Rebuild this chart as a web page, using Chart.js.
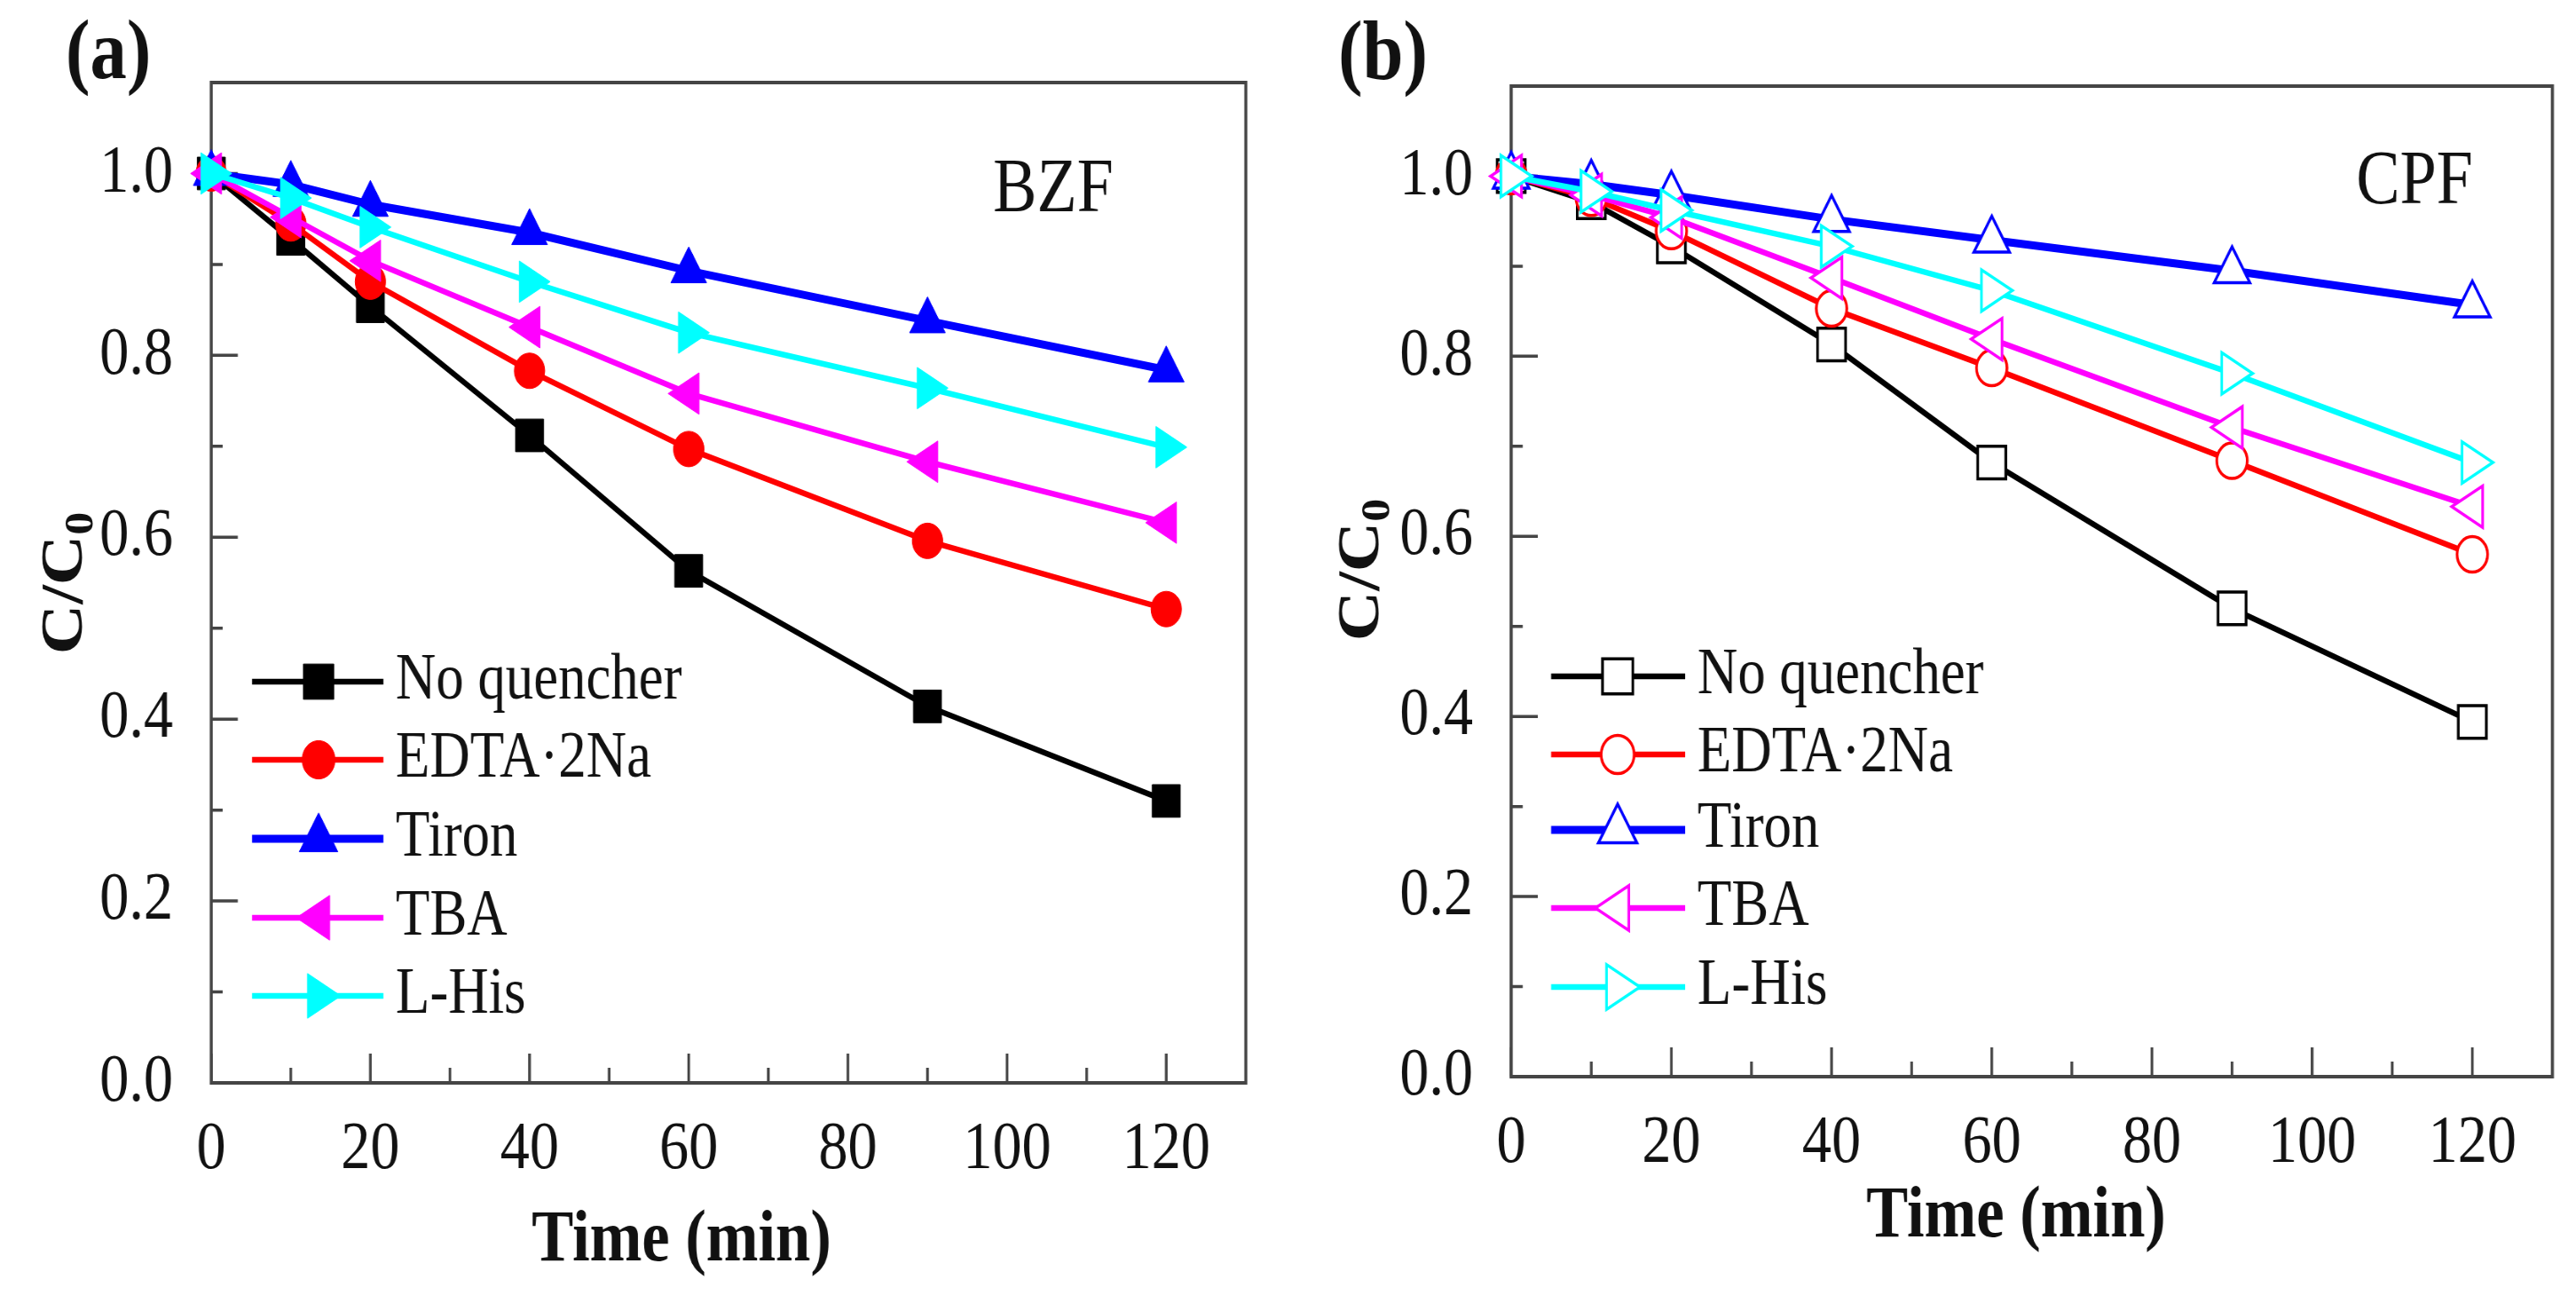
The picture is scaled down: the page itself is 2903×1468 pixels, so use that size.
<!DOCTYPE html>
<html>
<head>
<meta charset="utf-8">
<title>Quencher tests - BZF / CPF</title>
<script src="https://cdn.jsdelivr.net/npm/chart.js@4.4.1/dist/chart.umd.min.js"></script>
<style>
  html, body { margin: 0; padding: 0; background: #fff; overflow: hidden; }
  .panel { position: absolute; top: 0; transform-origin: 0 0; }
</style>
</head>
<body>
<div class="panel" id="wrapA"><canvas id="chartA"></canvas></div>
<div class="panel" id="wrapB"><canvas id="chartB"></canvas></div>
<script>
// data
const times = [0, 10, 20, 40, 60, 90, 120];
const quenchers = ["No quencher", "EDTA·2Na", "Tiron", "TBA", "L-His"];

const bzfNoQuencher = [1.0, 0.928, 0.854, 0.712, 0.563, 0.414, 0.31];
const bzfEdta = [1.0, 0.945, 0.881, 0.783, 0.697, 0.596, 0.521];
const bzfTiron = [1.0, 0.988, 0.966, 0.935, 0.893, 0.838, 0.784];
const bzfTba = [1.0, 0.952, 0.904, 0.831, 0.758, 0.683, 0.616];
const bzfLHis = [1.0, 0.973, 0.941, 0.881, 0.825, 0.764, 0.699];

const cpfNoQuencher = [1.0, 0.971, 0.922, 0.813, 0.682, 0.520, 0.394];
const cpfEdta = [1.0, 0.976, 0.939, 0.853, 0.787, 0.684, 0.580];
const cpfTiron = [1.0, 0.991, 0.979, 0.952, 0.929, 0.895, 0.857];
const cpfTba = [1.0, 0.979, 0.954, 0.887, 0.819, 0.721, 0.633];
const cpfLHis = [1.0, 0.983, 0.962, 0.922, 0.873, 0.781, 0.682];

const xMajor = [0, 20, 40, 60, 80, 100, 120];
const xMinor = [10, 30, 50, 70, 90, 110];
const yMajor = [0, 0.2, 0.4, 0.6, 0.8, 1.0];
const yMinor = [0.1, 0.3, 0.5, 0.7, 0.9];

// styles
const SQ = 0.86; // the source figure is squeezed horizontally
const H = 1468;
const FONT = '"Liberation Serif", "Times New Roman", serif';
const colors = ["#000000", "#ff0000", "#0000ff", "#ff00ff", "#00ffff"];
const lineWidths = [6.5, 6.5, 9, 6.5, 6.5];
const markers = [
    { style: "rect", rot: 0, r: 26 },
    { style: "circle", rot: 0, r: 20 },
    { style: "triangle", rot: 0, r: 27 },
    { style: "triangle", rot: -90, r: 27 },
    { style: "triangle", rot: 90, r: 27 },
];

const panels = [
    {
        wrap: "wrapA", canvas: "chartA", left: 0, width: 1450,
        area: { l: 238, r: 1404, t: 93, b: 1220 },
        tag: { text: "(a)", x: 74, y: 88 },
        name: { text: "BZF", x: 1187, y: 238 },
        xTitle: { x: 768, y: 1420 },
        yTitle: { x: 92, y: 657 },
        legend: { x0: 284, x1: 432, mx: 359, tx: 446, rows: [768, 856, 945, 1034, 1122] },
        hollow: false,
        series: [bzfNoQuencher, bzfEdta, bzfTiron, bzfTba, bzfLHis],
    },
    {
        wrap: "wrapB", canvas: "chartB", left: 1450, width: 1453,
        area: { l: 253, r: 1426, t: 97, b: 1213 },
        tag: { text: "(b)", x: 58, y: 89 },
        name: { text: "CPF", x: 1271, y: 229 },
        xTitle: { x: 822, y: 1393 },
        yTitle: { x: 103, y: 642 },
        legend: { x0: 298, x1: 449, mx: 373, tx: 463, rows: [762, 850, 935, 1023, 1112] },
        hollow: true,
        series: [cpfNoQuencher, cpfEdta, cpfTiron, cpfTba, cpfLHis],
    },
];

function drawMarker(ctx, style, r, rot, x, y) {
    if (Chart.helpers && Chart.helpers.drawPoint) {
        Chart.helpers.drawPoint(ctx, { pointStyle: style, radius: r, rotation: rot, borderWidth: ctx.lineWidth }, x, y);
        return;
    }
    ctx.beginPath();
    if (style === "circle") {
        ctx.arc(x, y, r, 0, Math.PI * 2);
    } else if (style === "rect") {
        const s = r * Math.SQRT1_2;
        ctx.rect(x - s, y - s, 2 * s, 2 * s);
    } else {
        let a = rot * Math.PI / 180;
        ctx.moveTo(x + Math.sin(a) * r, y - Math.cos(a) * r);
        a += 2 * Math.PI / 3;
        ctx.lineTo(x + Math.sin(a) * r, y - Math.cos(a) * r);
        a += 2 * Math.PI / 3;
        ctx.lineTo(x + Math.sin(a) * r, y - Math.cos(a) * r);
        ctx.closePath();
    }
    ctx.fill();
    ctx.stroke();
}

// frame and inward ticks, under the data
const framePlugin = {
    id: "frame",
    beforeDatasetsDraw(chart) {
        const { ctx, chartArea: a, scales: { x, y } } = chart;
        ctx.save();
        ctx.strokeStyle = "#454545";
        ctx.lineWidth = 4;
        ctx.strokeRect(a.left, a.top, a.right - a.left, a.bottom - a.top);
        ctx.lineWidth = 3.5;
        ctx.beginPath();
        xMajor.forEach((v) => { const p = x.getPixelForValue(v); ctx.moveTo(p, a.bottom); ctx.lineTo(p, a.bottom - 33); });
        xMinor.forEach((v) => { const p = x.getPixelForValue(v); ctx.moveTo(p, a.bottom); ctx.lineTo(p, a.bottom - 17); });
        yMajor.forEach((v) => { const p = y.getPixelForValue(v); ctx.moveTo(a.left, p); ctx.lineTo(a.left + 30 / SQ, p); });
        yMinor.forEach((v) => { const p = y.getPixelForValue(v); ctx.moveTo(a.left, p); ctx.lineTo(a.left + 13 / SQ, p); });
        ctx.stroke();
        ctx.restore();
    },
};

function textPlugin(p) {
    return {
        id: "texts",
        afterDraw(chart) {
            const ctx = chart.ctx;
            ctx.save();
            ctx.fillStyle = "#111";
            ctx.textBaseline = "alphabetic";

            ctx.textAlign = "left";
            ctx.font = "bold 96px " + FONT;
            ctx.fillText(p.tag.text, p.tag.x / SQ, p.tag.y);

            ctx.textAlign = "center";
            ctx.font = "86px " + FONT;
            ctx.fillText(p.name.text, p.name.x / SQ, p.name.y);

            ctx.font = "bold 82px " + FONT;
            ctx.fillText("Time (min)", p.xTitle.x / SQ, p.xTitle.y);

            // C/C0 with subscript, rotated
            ctx.save();
            ctx.translate(p.yTitle.x / SQ, p.yTitle.y);
            ctx.rotate(-Math.PI / 2);
            ctx.textAlign = "left";
            ctx.font = "bold 78px " + FONT;
            const main = "C/C";
            const wMain = ctx.measureText(main).width;
            ctx.font = "bold 52px " + FONT;
            const wSub = ctx.measureText("0").width;
            const start = -(wMain + wSub) / 2;
            ctx.font = "bold 78px " + FONT;
            ctx.fillText(main, start, 0);
            ctx.font = "bold 52px " + FONT;
            ctx.fillText("0", start + wMain, 14);
            ctx.restore();

            // legend: line + marker + label
            const lg = p.legend;
            chart.data.datasets.forEach((ds, i) => {
                const yy = lg.rows[i];
                ctx.strokeStyle = ds.borderColor;
                ctx.lineWidth = ds.borderWidth;
                ctx.beginPath();
                ctx.moveTo(lg.x0 / SQ, yy);
                ctx.lineTo(lg.x1 / SQ, yy);
                ctx.stroke();
                ctx.fillStyle = ds.pointBackgroundColor;
                ctx.strokeStyle = ds.pointBorderColor;
                ctx.lineWidth = ds.pointBorderWidth;
                drawMarker(ctx, ds.pointStyle, ds.pointRadius * 1.08, ds.pointRotation, lg.mx / SQ, yy);
                ctx.fillStyle = "#111";
                ctx.font = "73px " + FONT;
                ctx.textAlign = "left";
                ctx.textBaseline = "middle";
                ctx.fillText(ds.label, lg.tx / SQ, yy);
                ctx.textBaseline = "alphabetic";
            });
            ctx.restore();
        },
    };
}

function buildChart(p) {
    const W = Math.round(p.width / SQ);
    const wrap = document.getElementById(p.wrap);
    wrap.style.left = p.left + "px";
    wrap.style.width = W + "px";
    wrap.style.height = H + "px";
    wrap.style.transform = "scaleX(" + SQ + ")";
    const canvas = document.getElementById(p.canvas);
    canvas.width = W;
    canvas.height = H;

    const datasets = p.series.map((vals, i) => ({
        label: quenchers[i],
        data: times.map((t, k) => ({ x: t, y: vals[k] })),
        borderColor: colors[i],
        borderWidth: lineWidths[i],
        pointStyle: markers[i].style,
        pointRotation: markers[i].rot,
        pointRadius: markers[i].r,
        pointHoverRadius: markers[i].r,
        pointBackgroundColor: p.hollow ? "#ffffff" : colors[i],
        pointBorderColor: colors[i],
        pointBorderWidth: p.hollow ? 3.5 : 1,
        tension: 0,
        clip: false,
        order: 5 - i,
    }));

    const tickFont = { family: FONT, size: 77 };

    new Chart(canvas, {
        type: "line",
        data: { datasets: datasets },
        options: {
            responsive: false,
            animation: false,
            events: [],
            layout: {
                padding: { left: 0, top: p.area.t, right: (p.width - p.area.r) / SQ, bottom: 0 },
            },
            plugins: {
                legend: { display: false },
                tooltip: { enabled: false },
            },
            scales: {
                x: {
                    type: "linear",
                    min: 0,
                    max: 130,
                    afterFit: (s) => { s.height = H - p.area.b; },
                    afterBuildTicks: (s) => { s.ticks = xMajor.map((v) => ({ value: v })); },
                    grid: { display: false },
                    border: { display: false },
                    ticks: { font: tickFont, color: "#111", padding: 22, maxRotation: 0, autoSkip: false },
                },
                y: {
                    type: "linear",
                    min: 0,
                    max: 1.1,
                    afterFit: (s) => { s.width = p.area.l / SQ; },
                    afterBuildTicks: (s) => { s.ticks = yMajor.map((v) => ({ value: v })); },
                    grid: { display: false },
                    border: { display: false },
                    ticks: {
                        font: tickFont,
                        color: "#111",
                        padding: 42,
                        autoSkip: false,
                        callback: (v) => Number(v).toFixed(1),
                    },
                },
            },
        },
        plugins: [framePlugin, textPlugin(p)],
    });
}

panels.forEach(buildChart);
</script>
</body>
</html>
